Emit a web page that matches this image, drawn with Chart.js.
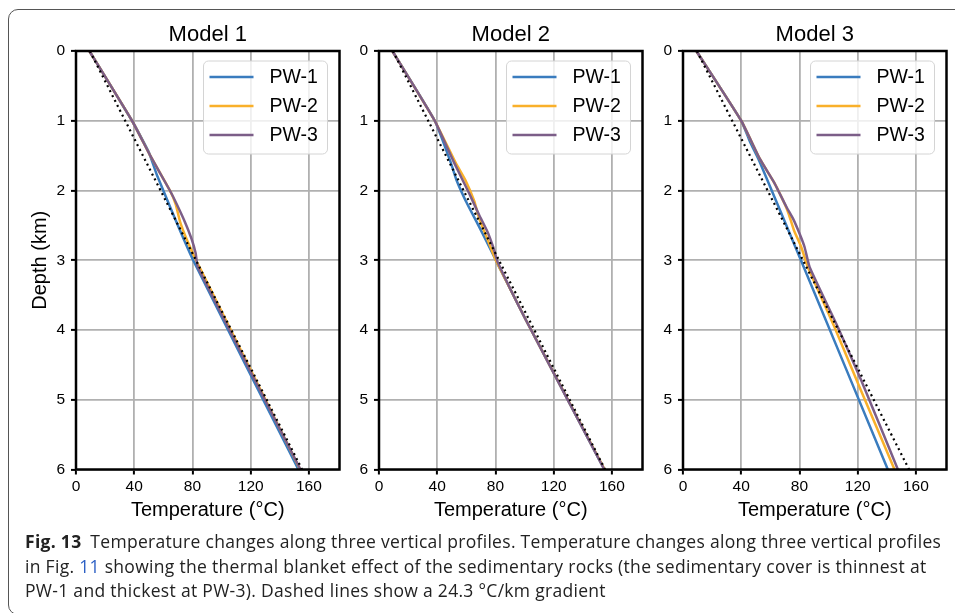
<!DOCTYPE html>
<html>
<head>
<meta charset="utf-8">
<script src="https://cdn.jsdelivr.net/npm/chart.js@4/dist/chart.umd.min.js"></script>
<style>
  body { margin: 0; background: #fff; }
  #fig { position: relative; width: 955px; height: 613px; overflow: hidden; background: #fff; }
  #frame {
    position: absolute; left: 8px; top: 9px; width: 1000px; height: 606px;
    border: 1.3px solid #555; border-radius: 10px; box-sizing: border-box;
  }
  canvas { position: absolute; top: 0; }
  #caption {
    position: absolute; left: 25px; top: 529px;
    font-family: "Open Sans", sans-serif; font-size: 17.5px; line-height: 24.7px;
    letter-spacing: 0.3px; color: #222; white-space: nowrap;
  }
  #caption b { font-weight: 700; margin-right: 4px; }
  #caption .ref { color: #2b5fc4; }
</style>
</head>
<body>
<div id="fig">
  <div id="frame"></div>
  <canvas id="c1" width="346" height="530" style="left:0px"></canvas>
  <canvas id="c2" width="300" height="530" style="left:349px"></canvas>
  <canvas id="c3" width="300" height="530" style="left:653px"></canvas>
  <div id="caption">
    <b>Fig. 13</b> Temperature changes along three vertical profiles. Temperature changes along three vertical profiles<br>
    in Fig. <span class="ref">11</span> showing the thermal blanket effect of the sedimentary rocks (the sedimentary cover is thinnest at<br>
    PW-1 and thickest at PW-3). Dashed lines show a 24.3 °C/km gradient
  </div>
</div>
<script>
// 軸とラベル
const modelTitles = ["Model 1", "Model 2", "Model 3"];
const seriesNames = ["PW-1", "PW-2", "PW-3"];
const seriesColors = ["#3a7cbe", "#f9b02a", "#7c5e88"];
const xTicks = [0, 40, 80, 120, 160];
const yTicks = [0, 1, 2, 3, 4, 5, 6];

// 24.3 °C/km の勾配線
const gradDepth = [0, 6];
const gradTemp = [9.5, 155.3];

// Model 1
const m1Pw1Depth = [0, 1, 1.45, 1.8, 3.0, 6];
const m1Pw1Temp = [9.2, 38.5, 50, 56, 80.5, 152.8];
const m1Pw2Depth = [0, 1, 1.5, 2.0, 2.2, 2.45, 2.7, 3.0, 6];
const m1Pw2Temp = [9.2, 38.5, 51, 64.5, 68.5, 71.5, 76, 82.5, 154];
const m1Pw3Depth = [0, 1, 1.5, 2.0, 2.2, 2.45, 2.7, 2.9, 3.1, 6];
const m1Pw3Temp = [9.2, 38.5, 51, 64.5, 69.3, 74.8, 79.5, 82.2, 83.7, 154.2];

// Model 2
const m2Pw1Depth = [0, 1, 1.6, 1.85, 2.15, 2.5, 2.95, 3.05, 3.86, 6];
const m2Pw1Temp = [9.2, 38.3, 49.3, 53.2, 59.6, 68.3, 79.1, 81.4, 101, 154.8];
const m2Pw2Depth = [0, 1, 1.6, 1.85, 2.15, 2.4, 2.7, 2.98, 3.05, 3.86, 6];
const m2Pw2Temp = [9.2, 38.3, 52.6, 59.3, 65.4, 68.8, 74.5, 79.8, 81.4, 101, 155];
const m2Pw3Depth = [0, 1, 1.6, 2.04, 2.35, 2.59, 2.81, 3.02, 3.86, 6];
const m2Pw3Temp = [9.2, 38.3, 51.6, 61.9, 68.8, 74.5, 78.4, 81.4, 101, 154.8];

// Model 3
const m3Pw1Depth = [0, 1, 1.3, 1.58, 3.0, 6];
const m3Pw1Temp = [9.2, 40, 46, 52.5, 81, 140.7];
const m3Pw2Depth = [0, 1, 1.54, 1.9, 2.19, 2.33, 2.57, 2.81, 3.1, 3.96, 4.82, 6];
const m3Pw2Temp = [9.2, 40, 52.6, 63, 69.8, 72.5, 76.2, 81.2, 85.8, 104.1, 121.3, 145.3];
const m3Pw3Depth = [0, 1, 1.54, 1.9, 2.23, 2.4, 2.62, 2.81, 3.1, 3.96, 4.72, 6];
const m3Pw3Temp = [9.2, 40, 52.6, 63, 70.9, 75.5, 80.1, 83.5, 87, 106.4, 122.4, 147.6];

const profiles = [
  [[m1Pw1Temp, m1Pw1Depth], [m1Pw2Temp, m1Pw2Depth], [m1Pw3Temp, m1Pw3Depth]],
  [[m2Pw1Temp, m2Pw1Depth], [m2Pw2Temp, m2Pw2Depth], [m2Pw3Temp, m2Pw3Depth]],
  [[m3Pw1Temp, m3Pw1Depth], [m3Pw2Temp, m3Pw2Depth], [m3Pw3Temp, m3Pw3Depth]],
];

Chart.defaults.font.family = '"Liberation Sans", Arial, sans-serif';
Chart.defaults.color = "#000";

function toPoints(temps, depths) {
  return temps.map((t, i) => ({ x: t, y: depths[i] }));
}

// 枠線 (matplotlib の spine 相当)
const framePlugin = {
  id: "frame",
  afterDatasetsDraw(chart) {
    const { ctx, chartArea: a } = chart;
    ctx.save();
    ctx.strokeStyle = "#000";
    ctx.lineWidth = 2.5;
    ctx.strokeRect(a.left, a.top, a.right - a.left, a.bottom - a.top);
    ctx.restore();
  },
};

// 凡例 (プロット内右上、枠付き)
const boxLegendPlugin = {
  id: "boxLegend",
  afterDraw(chart) {
    const { ctx, chartArea: a } = chart;
    const w = 124, h = 93;
    const left = a.right - 12 - w, top = a.top + 10;
    ctx.save();
    ctx.beginPath();
    ctx.roundRect(left, top, w, h, 5);
    ctx.fillStyle = "rgba(255,255,255,0.8)";
    ctx.fill();
    ctx.strokeStyle = "#d4d4d4";
    ctx.lineWidth = 1;
    ctx.stroke();
    ctx.font = '19.5px "Liberation Sans", Arial, sans-serif';
    ctx.textBaseline = "middle";
    chart.data.datasets.forEach((ds, i) => {
      if (!seriesNames.includes(ds.label)) return;
      const y = top + 16 + i * 29;
      ctx.beginPath();
      ctx.moveTo(left + 6, y);
      ctx.lineTo(left + 50, y);
      ctx.strokeStyle = ds.borderColor;
      ctx.lineWidth = 2.5;
      ctx.stroke();
      ctx.fillStyle = "#000";
      ctx.fillText(ds.label, left + 66, y + 1);
    });
    ctx.restore();
  },
};

function makeChart(canvasId, idx, yAxisWidth) {
  const datasets = profiles[idx].map(([temps, depths], i) => ({
    label: seriesNames[i],
    data: toPoints(temps, depths),
    borderColor: seriesColors[i],
    borderWidth: 2.5,
    showLine: true,
    pointRadius: 0,
    tension: 0.15,
    order: 3 - i,
  }));
  datasets.push({
    label: "gradient",
    data: toPoints(gradTemp, gradDepth),
    borderColor: "#000",
    borderWidth: 2.2,
    borderDash: [2, 3.5],
    showLine: true,
    pointRadius: 0,
    order: 0,
  });

  new Chart(document.getElementById(canvasId), {
    type: "scatter",
    data: { datasets },
    options: {
      responsive: false,
      animation: false,
      devicePixelRatio: 1,
      layout: { padding: { top: 21.3, right: 6.5, bottom: 0, left: 0 } },
      plugins: {
        legend: { display: false },
        tooltip: { enabled: false },
        title: {
          display: true,
          text: modelTitles[idx],
          fullSize: false,
          font: { size: 22, weight: "normal", lineHeight: 1.2 },
          padding: { top: 0, bottom: 3.3 },
        },
      },
      scales: {
        x: {
          type: "linear",
          min: 0,
          max: 181,
          afterBuildTicks: (s) => { s.ticks = xTicks.map((v) => ({ value: v })); },
          afterFit: (s) => { s.height = 60.5; },
          ticks: { font: { size: 15.5 }, padding: 3, maxRotation: 0, includeBounds: false },
          grid: { color: "#b0b0b0", lineWidth: 1.8, tickColor: "#000", tickWidth: 2, tickLength: 5 },
          border: { display: false },
          title: {
            display: true,
            text: "Temperature (°C)",
            font: { size: 20, lineHeight: 1.2 },
            padding: { top: 0, bottom: 8 },
          },
        },
        y: {
          type: "linear",
          reverse: true,
          min: 0,
          max: 6,
          afterBuildTicks: (s) => { s.ticks = yTicks.map((v) => ({ value: v })); },
          afterFit: (s) => { s.width = yAxisWidth; },
          ticks: { font: { size: 15.5 }, padding: 6 },
          grid: { color: "#b0b0b0", lineWidth: 1.8, tickColor: "#000", tickWidth: 2, tickLength: 5 },
          border: { display: false },
          title: {
            display: idx === 0,
            text: "Depth (km)",
            font: { size: 20, lineHeight: 1.2 },
            padding: { top: 28.5, bottom: 0 },
          },
        },
      },
    },
    plugins: [framePlugin, boxLegendPlugin],
  });
}

makeChart("c1", 0, 76);
makeChart("c2", 1, 30);
makeChart("c3", 2, 30);
</script>
</body>
</html>
